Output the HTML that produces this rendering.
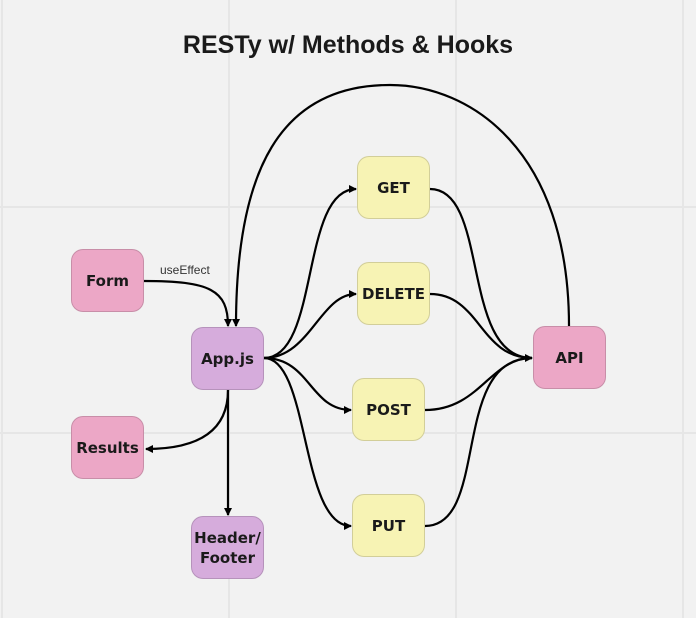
<!DOCTYPE html>
<html><head><style>
body{margin:0;width:696px;height:618px;background:#f2f2f2;overflow:hidden;font-family:"Liberation Sans","DejaVu Sans",sans-serif;}
.n{position:absolute;width:73px;height:63px;border-radius:12px;border:1px solid rgba(0,0,0,0.15);box-sizing:border-box;display:flex;align-items:center;justify-content:center;text-align:center;font-weight:bold;font-size:15px;color:#1a1a1a;font-family:"DejaVu Sans",sans-serif;line-height:20px}
.p{background:#eca7c6}.v{background:#d6acdc}.y{background:#f7f3b4}
</style></head><body>
<svg width="696" height="618" style="position:absolute;left:0;top:0">
<g stroke="#e6e6e6" stroke-width="2"><line x1="2" y1="0" x2="2" y2="618"/><line x1="229" y1="0" x2="229" y2="618"/><line x1="456" y1="0" x2="456" y2="618"/><line x1="683" y1="0" x2="683" y2="618"/><line x1="0" y1="207" x2="696" y2="207"/><line x1="0" y1="433" x2="696" y2="433"/></g>
<defs><marker id="a" markerWidth="8" markerHeight="8" refX="7" refY="4" orient="auto" markerUnits="userSpaceOnUse"><path d="M0,0 L8,4 L0,8 z" fill="#000"/></marker></defs>
<g fill="none" stroke="#000" stroke-width="2.2">
<path d="M144,281 C210,281 228,290 228,326" marker-end="url(#a)"/>
<path d="M569,326 C569,150 470,85 390,85 C280,85 236,170 236,326" marker-end="url(#a)"/>
<path d="M264,358 C320,358 300,189 356,189" marker-end="url(#a)"/>
<path d="M264,358 C310,358 320,294 356,294" marker-end="url(#a)"/>
<path d="M264,358 C310,358 310,410 351,410" marker-end="url(#a)"/>
<path d="M264,358 C310,358 300,526 351,526" marker-end="url(#a)"/>
<path d="M228,390 C228,430 200,449 146,449" marker-end="url(#a)"/>
<path d="M228,390 L228,515" marker-end="url(#a)"/>
<path d="M430,189 C490,189 460,358 532,358" marker-end="url(#a)"/>
<path d="M430,294 C480,294 480,358 532,358"/>
<path d="M425,410 C480,410 490,358 532,358"/>
<path d="M425,526 C490,526 450,358 532,358"/>
</g>
<text x="160" y="274" font-size="12" fill="#333" font-family="Liberation Sans,sans-serif">useEffect</text>
</svg>
<div style="position:absolute;left:0;width:696px;top:31px;text-align:center;font-weight:bold;font-size:25px;color:#1a1a1a">RESTy w/ Methods &amp; Hooks</div>
<div class="n p" style="left:71px;top:249px">Form</div>
<div class="n v" style="left:191px;top:327px">App.js</div>
<div class="n p" style="left:71px;top:416px">Results</div>
<div class="n v" style="left:191px;top:516px">Header/<br>Footer</div>
<div class="n y" style="left:357px;top:156px">GET</div>
<div class="n y" style="left:357px;top:262px">DELETE</div>
<div class="n y" style="left:352px;top:378px">POST</div>
<div class="n y" style="left:352px;top:494px">PUT</div>
<div class="n p" style="left:533px;top:326px">API</div>
</body></html>
